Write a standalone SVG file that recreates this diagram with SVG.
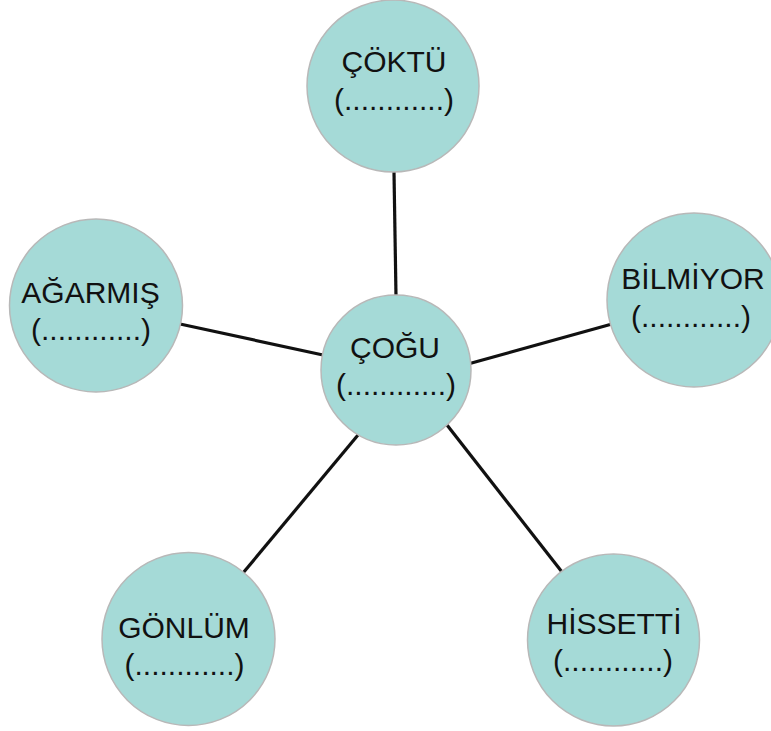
<svg xmlns="http://www.w3.org/2000/svg" width="771" height="731" viewBox="0 0 771 731">
<style>
.n{fill:#a5dad7;stroke:#b8b8b8;stroke-width:1.5}
.t{font-family:"Liberation Sans",Arial,sans-serif;font-size:30px;fill:#111;text-anchor:middle}
.c{stroke:#111;stroke-width:3.2;fill:none}
</style>
<rect width="771" height="731" fill="#fff"/>
<g id="connectors">
<line class="c" x1="394" y1="172" x2="396" y2="296"/>
<line class="c" x1="180" y1="324" x2="323" y2="355"/>
<line class="c" x1="468" y1="364" x2="612" y2="324"/>
<line class="c" x1="358" y1="435" x2="243" y2="573"/>
<line class="c" x1="447" y1="425" x2="562" y2="572"/>
</g>
<g id="n-cokti">
<circle class="n" cx="393" cy="86" r="86"/>
<text class="t" x="394" y="72">ÇÖKTÜ</text>
<text class="t" x="394" y="110">(............)</text>
</g>
<g id="n-agarmis">
<circle class="n" cx="96" cy="305.5" r="86.5"/>
<text class="t" x="90.5" y="303">AĞARMIŞ</text>
<text class="t" x="91" y="340">(............)</text>
</g>
<g id="n-bilmiyor">
<circle class="n" cx="694" cy="300" r="87"/>
<text class="t" x="693" y="289">BİLMİYOR</text>
<text class="t" x="691" y="327">(............)</text>
</g>
<g id="n-cogu">
<circle class="n" cx="396" cy="370" r="75"/>
<text class="t" x="395" y="358">ÇOĞU</text>
<text class="t" x="396" y="395">(............)</text>
</g>
<g id="n-gonlum">
<circle class="n" cx="188.5" cy="639" r="86.5"/>
<text class="t" x="184" y="638">GÖNLÜM</text>
<text class="t" x="184.5" y="675">(............)</text>
</g>
<g id="n-hissetti">
<circle class="n" cx="613.5" cy="640" r="86"/>
<text class="t" x="614" y="634">HİSSETTİ</text>
<text class="t" x="613" y="671">(............)</text>
</g>
</svg>
